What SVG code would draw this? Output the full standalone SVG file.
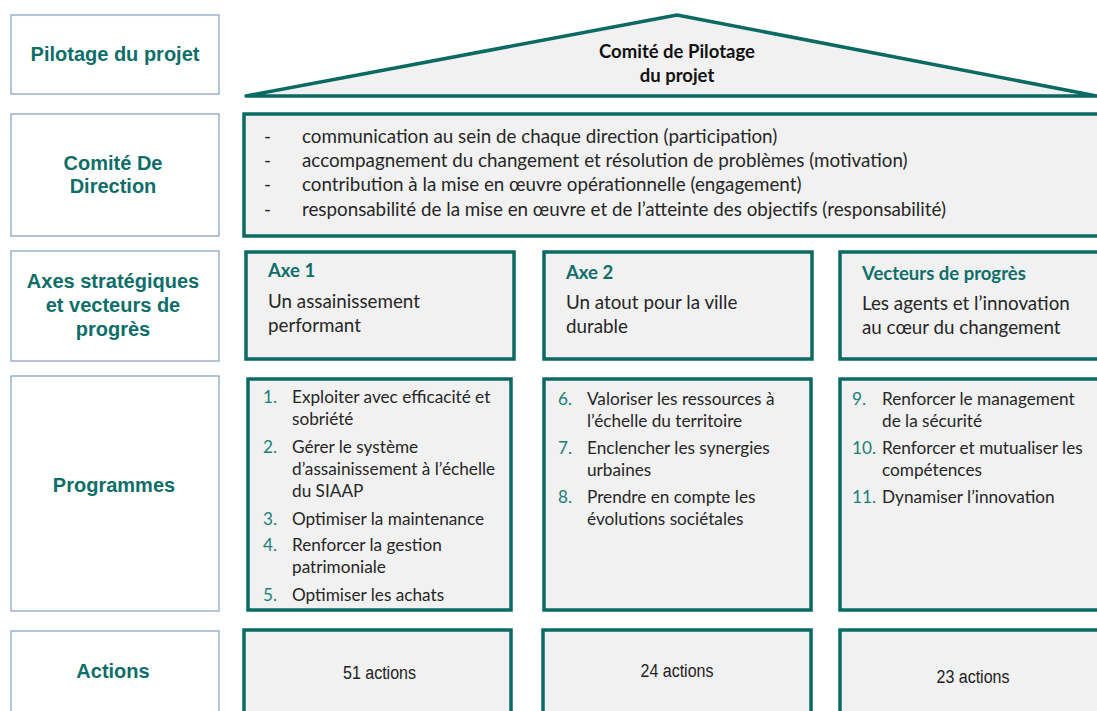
<svg xmlns="http://www.w3.org/2000/svg" width="1097" height="711" viewBox="0 0 1097 711">
<style>
.lab{fill:#fff;stroke:#7f9cc2;stroke-width:1.2}
.lt{font-family:"Liberation Sans",Arial,sans-serif;font-weight:bold;font-size:20px;fill:#0e6e69;text-anchor:middle}
.box{fill:#f1f1f1;stroke:#0b6a64;stroke-width:3.5}
.t{font-family:Lato,"Open Sans",sans-serif;font-size:18.8px;fill:#262626}
.h{font-family:Lato,"Open Sans",sans-serif;font-size:18.5px;font-weight:bold;fill:#0e6e69}
.n{font-family:Lato,"Open Sans",sans-serif;font-size:17.2px;fill:#1b7f78}
.p{font-family:Lato,"Open Sans",sans-serif;font-size:17.2px;fill:#262626}
.a{font-family:"Liberation Sans",sans-serif;font-size:18px;fill:#222;text-anchor:middle}
</style>
<rect width="1097" height="711" fill="#fff"/>
<g id="label-pilotage"><rect class="lab" x="11" y="15" width="208" height="79"/><text class="lt" x="115" y="61">Pilotage du projet</text></g>
<g id="label-comite"><rect class="lab" x="11" y="114" width="208" height="122"/><text class="lt" x="113" y="170">Comité De</text><text class="lt" x="113" y="193">Direction</text></g>
<g id="label-axes"><rect class="lab" x="11" y="251" width="208" height="110"/><text class="lt" x="113" y="288">Axes stratégiques</text><text class="lt" x="113" y="312">et vecteurs de</text><text class="lt" x="113" y="336">progrès</text></g>
<g id="label-programmes"><rect class="lab" x="11" y="376" width="208" height="235"/><text class="lt" x="114" y="492">Programmes</text></g>
<g id="label-actions"><rect class="lab" x="11" y="631" width="208" height="90"/><text class="lt" x="113" y="678">Actions</text></g>

<g id="roof"><polygon points="246,96 677,15 1097,96" fill="#f1f1f1" stroke="#0b6a64" stroke-width="3.5" stroke-linejoin="round"/>
<text x="677" y="58" font-family="Lato,'Open Sans',sans-serif" font-size="18.5px" font-weight="bold" fill="#111" text-anchor="middle">Comité de Pilotage</text>
<text x="677" y="82" font-family="Lato,'Open Sans',sans-serif" font-size="18.5px" font-weight="bold" fill="#111" text-anchor="middle">du projet</text></g>

<g id="comite-direction"><rect class="box" x="244" y="114" width="860" height="122"/>
<text class="t" x="264" y="143">-</text><text class="t" x="302" y="143">communication au sein de chaque direction (participation)</text>
<text class="t" x="264" y="167">-</text><text class="t" x="302" y="167">accompagnement du changement et résolution de problèmes (motivation)</text>
<text class="t" x="264" y="191">-</text><text class="t" x="302" y="191">contribution à la mise en œuvre opérationnelle (engagement)</text>
<text class="t" x="264" y="216">-</text><text class="t" x="302" y="216">responsabilité de la mise en œuvre et de l’atteinte des objectifs (responsabilité)</text></g>

<g id="axe1"><rect class="box" x="246" y="252" width="268" height="107"/><text class="h" x="268" y="277">Axe 1</text><text class="t" x="268" y="308">Un assainissement</text><text class="t" x="268" y="332">performant</text></g>
<g id="axe2"><rect class="box" x="544" y="252" width="268" height="107"/><text class="h" x="566" y="279">Axe 2</text><text class="t" x="566" y="309">Un atout pour la ville</text><text class="t" x="566" y="333">durable</text></g>
<g id="vecteurs"><rect class="box" x="840" y="252" width="270" height="107"/><text class="h" x="862" y="280">Vecteurs de progrès</text><text class="t" x="862" y="310">Les agents et l’innovation</text><text class="t" x="862" y="334">au cœur du changement</text></g>

<g id="prog1"><rect class="box" x="248" y="379" width="263" height="231"/>
<text class="n" x="263" y="403">1.</text><text class="p" x="292" y="403">Exploiter avec efficacité et</text><text class="p" x="292" y="425">sobriété</text>
<text class="n" x="263" y="453">2.</text><text class="p" x="292" y="453">Gérer le système</text><text class="p" x="292" y="475">d’assainissement à l’échelle</text><text class="p" x="292" y="497">du SIAAP</text>
<text class="n" x="263" y="525">3.</text><text class="p" x="292" y="525">Optimiser la maintenance</text>
<text class="n" x="263" y="551">4.</text><text class="p" x="292" y="551">Renforcer la gestion</text><text class="p" x="292" y="573">patrimoniale</text>
<text class="n" x="263" y="601">5.</text><text class="p" x="292" y="601">Optimiser les achats</text></g>

<g id="prog2"><rect class="box" x="544" y="379" width="267" height="231"/>
<text class="n" x="558" y="405">6.</text><text class="p" x="587" y="405">Valoriser les ressources à</text><text class="p" x="587" y="427">l’échelle du territoire</text>
<text class="n" x="558" y="454">7.</text><text class="p" x="587" y="454">Enclencher les synergies</text><text class="p" x="587" y="476">urbaines</text>
<text class="n" x="558" y="503">8.</text><text class="p" x="587" y="503">Prendre en compte les</text><text class="p" x="587" y="525">évolutions sociétales</text></g>

<g id="prog3"><rect class="box" x="840" y="379" width="270" height="231"/>
<text class="n" x="852" y="405">9.</text><text class="p" x="882" y="405">Renforcer le management</text><text class="p" x="882" y="427">de la sécurité</text>
<text class="n" x="852" y="454">10.</text><text class="p" x="882" y="454">Renforcer et mutualiser les</text><text class="p" x="882" y="476">compétences</text>
<text class="n" x="852" y="503">11.</text><text class="p" x="882" y="503">Dynamiser l’innovation</text></g>

<g id="actions1"><rect class="box" x="244" y="630" width="267" height="100"/><text class="a" x="379.5" y="679" textLength="73" lengthAdjust="spacingAndGlyphs">51 actions</text></g>
<g id="actions2"><rect class="box" x="543" y="630" width="268" height="100"/><text class="a" x="677" y="677" textLength="73" lengthAdjust="spacingAndGlyphs">24 actions</text></g>
<g id="actions3"><rect class="box" x="840" y="630" width="270" height="100"/><text class="a" x="973" y="683" textLength="73" lengthAdjust="spacingAndGlyphs">23 actions</text></g>
<g id="connectors"></g>
</svg>
